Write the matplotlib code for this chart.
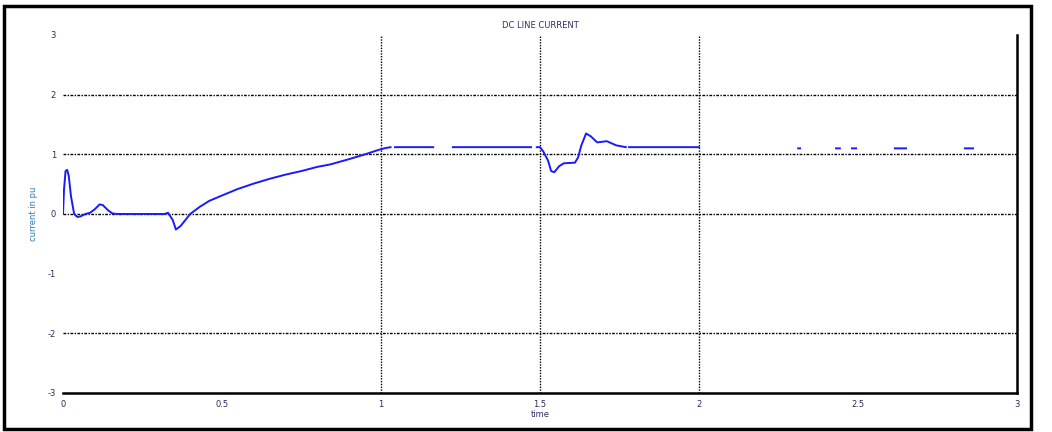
import numpy as np
import matplotlib.pyplot as plt
from matplotlib.patches import Rectangle

# DC line current (pu) vs time; nan = gaps in the trace
time = [0, 0.003, 0.008, 0.013, 0.018, 0.025, 0.035, 0.045, 0.055, 0.07, 0.085,
        0.1, 0.115, 0.125, 0.14, 0.155, 0.17, 0.25, 0.32, 0.33, 0.345, 0.355,
        0.37, 0.4, 0.43, 0.46, 0.5, 0.55, 0.6, 0.65, 0.7, 0.75, 0.8, 0.84,
        0.9, 0.95, 0.99, 1.01, 1.03,
        np.nan, 1.044, 1.164,
        np.nan, 1.226, 1.472,
        np.nan, 1.49, 1.50, 1.51, 1.525, 1.535, 1.545, 1.56, 1.575, 1.61, 1.62,
        1.63, 1.645, 1.66, 1.68, 1.71, 1.74, 1.77,
        np.nan, 1.78, 2.0,
        np.nan, 2.312, 2.318,
        np.nan, 2.431, 2.443,
        np.nan, 2.481, 2.494,
        np.nan, 2.616, 2.651,
        np.nan, 2.836, 2.862]
current = [0, 0.4, 0.72, 0.74, 0.64, 0.3, 0.0, -0.05, -0.04, 0.0, 0.02,
           0.08, 0.16, 0.15, 0.07, 0.01, 0.0, 0.0, 0.0, 0.02, -0.1, -0.26,
           -0.2, 0.0, 0.12, 0.22, 0.31, 0.42, 0.51, 0.59, 0.66, 0.72, 0.79, 0.83,
           0.92, 1.0, 1.07, 1.1, 1.12,
           np.nan, 1.12, 1.12,
           np.nan, 1.12, 1.12,
           np.nan, 1.12, 1.12, 1.05, 0.9, 0.72, 0.70, 0.8, 0.85, 0.86, 0.95,
           1.15, 1.35, 1.3, 1.2, 1.22, 1.15, 1.12,
           np.nan, 1.12, 1.12,
           np.nan, 1.1, 1.1,
           np.nan, 1.1, 1.1,
           np.nan, 1.1, 1.1,
           np.nan, 1.1, 1.1,
           np.nan, 1.1, 1.1]

x_ticks = [0, 0.5, 1, 1.5, 2, 2.5, 3]
y_ticks = [-3, -2, -1, 0, 1, 2, 3]
x_grid = [1, 1.5, 2]
y_grid = [-2, 0, 1, 2]

fig = plt.figure(figsize=(10.52, 4.32), dpi=100)
ax = fig.add_axes([0.0599, 0.0903, 0.9068, 0.8287])

# faint dash-dot grid only where it shows in the screenshot
for yg in y_grid:
    ax.axhline(yg, color="black", lw=1, ls=(0, (2, 1, 1, 1)), zorder=1)
for xg in x_grid:
    ax.axvline(xg, color="black", lw=1, ls=(0, (1, 1)), zorder=1)

ax.plot(time, current, color="#1a1aff", lw=1.4, zorder=3)

ax.set_xlim(0, 3)
ax.set_ylim(-3, 3)
ax.set_xticks(x_ticks)
ax.set_xticklabels(["0", "0.5", "1", "1.5", "2", "2.5", "3"])
ax.set_yticks(y_ticks)
ax.set_yticklabels(["-3", "-2", "-1", "0", "1", "2", "3"])
ax.tick_params(which="major", length=0, labelsize=6, labelcolor="#2a2a5a", pad=5)
ax.set_xticks(x_grid, minor=True)
ax.set_yticks(y_grid, minor=True)
ax.tick_params(which="minor", direction="in", length=7, width=1.8,
               top=True, right=True, color="black")

ax.spines["left"].set_visible(False)
ax.spines["top"].set_visible(False)
ax.spines["right"].set_linewidth(1.8)
ax.spines["bottom"].set_linewidth(1.8)

ax.set_title("DC LINE CURRENT", fontsize=6, color="#3a2a6a", pad=5)
ax.set_xlabel("time", fontsize=6, color="#3a2a6a", labelpad=1)
ax.set_ylabel("current in pu", fontsize=6, color="#2a7ab8", labelpad=7)

# outer frame around the whole figure
fig.patches.append(Rectangle((0.004, 0.007), 0.976, 0.979, transform=fig.transFigure,
                             fill=False, edgecolor="black", lw=2.5))

fig.savefig("out.png", dpi=100)
